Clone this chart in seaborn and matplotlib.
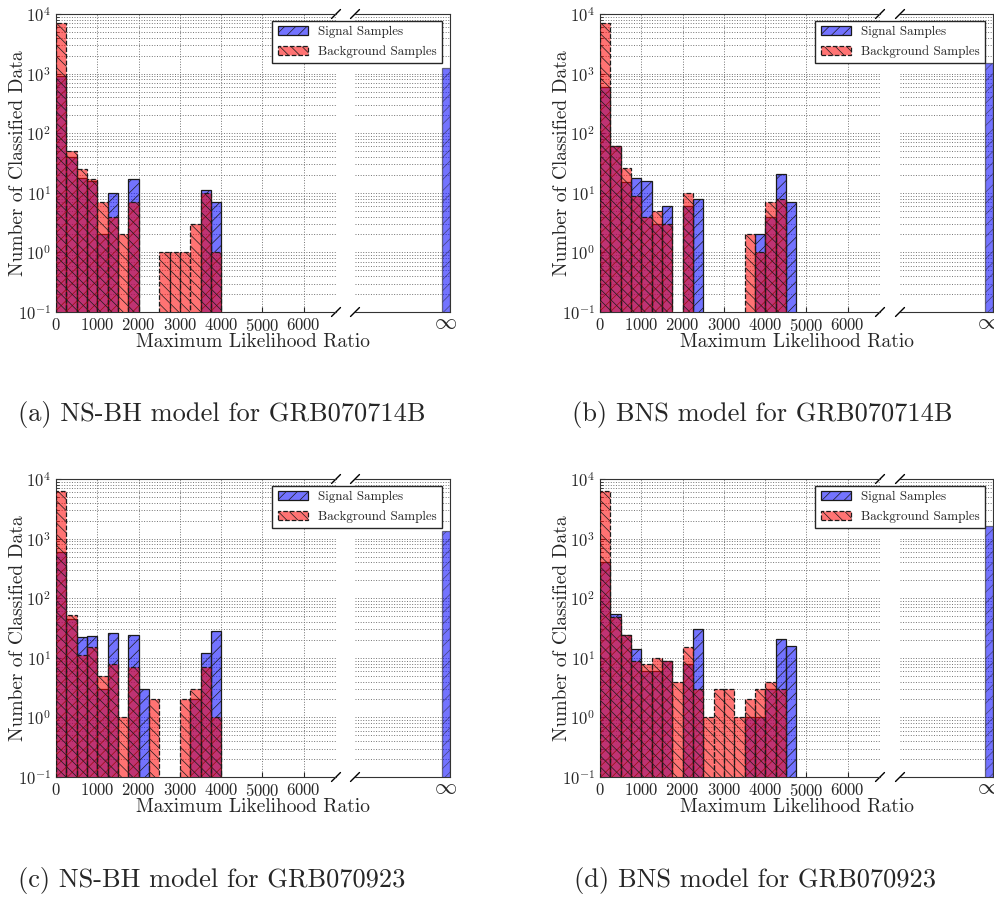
import numpy as np
import seaborn as sns
import matplotlib.pyplot as plt

# histogram bins of the maximum likelihood ratio
bin_edges = [0, 250, 500, 750, 1000, 1250, 1500, 1750, 2000, 2250, 2500,
             2750, 3000, 3250, 3500, 3750, 4000, 4250, 4500, 4750]

# (a) NS-BH model for GRB070714B
signal_a = [900, 40, 18, 16, 2, 10, 0, 17, 0, 0, 0, 0, 0, 0, 11, 7, 0, 0, 0]
background_a = [7000, 50, 25, 17, 7, 4, 2, 7, 0, 0, 1, 1, 1, 3, 10, 1, 0, 0, 0]
inf_a = 1230

# (b) BNS model for GRB070714B
signal_b = [600, 60, 15, 18, 16, 3, 6, 0, 6, 8, 0, 0, 0, 0, 0, 2, 4, 21, 7]
background_b = [7000, 60, 26, 9, 4, 5, 3, 0, 10, 0, 0, 0, 0, 0, 2, 1, 7, 8, 0]
inf_b = 1500

# (c) NS-BH model for GRB070923
signal_c = [600, 44, 22, 23, 3, 26, 0, 24, 3, 0, 0, 0, 0, 2, 12, 28, 0, 0, 0]
background_c = [6200, 52, 11, 15, 5, 8, 1, 7, 0, 2, 0, 0, 2, 3, 7, 1, 0, 0, 0]
inf_c = 1350

# (d) BNS model for GRB070923
signal_d = [400, 55, 24, 14, 6, 6, 9, 0, 8, 31, 0, 0, 0, 0, 1, 1, 3, 21, 16]
background_d = [6300, 48, 24, 9, 8, 10, 9, 4, 15, 3, 1, 3, 3, 1, 2, 3, 4, 3, 0]
inf_d = 1650

captions = ["(a) NS-BH model for GRB070714B", "(b) BNS model for GRB070714B",
            "(c) NS-BH model for GRB070923", "(d) BNS model for GRB070923"]

sns.set_style("white")
plt.rcParams['font.family'] = ['cmr10']
plt.rcParams['mathtext.fontset'] = 'cm'
plt.rcParams['axes.formatter.use_mathtext'] = True
plt.rcParams['axes.unicode_minus'] = False
plt.rcParams['hatch.linewidth'] = 0.5

W, H = 995, 900
fig = plt.figure(figsize=(W / 100, H / 100), dpi=100)

centers = [(bin_edges[i] + bin_edges[i + 1]) / 2 for i in range(len(bin_edges) - 1)]

panels = [
    (signal_a, background_a, inf_a, 56, 14, 355, 95),
    (signal_b, background_b, inf_b, 600, 14, 900, 93),
    (signal_c, background_c, inf_c, 56, 479, 355, 95),
    (signal_d, background_d, inf_d, 600, 479, 900, 93),
]
caption_pos = [(18, 415), (572, 415), (18, 880), (574, 880)]

grid_kw = dict(color='0.45', linestyle=':', linewidth=0.7)

for k, (sig, bg, inf_count, x0, y0, xr, wr) in enumerate(panels):
    h = 298
    ax = fig.add_axes([x0 / W, 1 - (y0 + h) / H, 280 / W, h / H])
    axr = fig.add_axes([xr / W, 1 - (y0 + h) / H, wr / W, h / H])

    sns.histplot(x=centers, weights=sig, bins=bin_edges, ax=ax, color='blue',
                 alpha=0.55, edgecolor='0.1', linewidth=0.9, hatch='///',
                 label='Signal Samples', zorder=2)
    sns.histplot(x=centers, weights=bg, bins=bin_edges, ax=ax, color='red',
                 alpha=0.55, edgecolor='0.1', linewidth=0.9, linestyle='--',
                 hatch='\\\\\\', label='Background Samples', zorder=3)
    ax.set_yscale('log')
    ax.set_ylim(0.1, 1e4)
    ax.set_xlim(0, 6780)
    ax.set_xticks([0, 1000, 2000, 3000, 4000, 5000, 6000])
    ax.set_yticks([1e-1, 1e0, 1e1, 1e2, 1e3, 1e4])
    ax.grid(True, which='major', axis='both', **grid_kw)
    ax.grid(True, which='minor', axis='y', **grid_kw)
    ax.set_axisbelow(True)
    ax.spines['right'].set_visible(False)
    for s in ['left', 'top', 'bottom']:
        ax.spines[s].set_color('0.2')
    ax.tick_params(axis='both', which='both', direction='in', labelsize=12,
                   left=True, bottom=True, top=False, right=False)
    ax.set_ylabel('Number of Classified Data', fontsize=14)
    ax.yaxis.set_label_coords(-0.105, 0.5)
    ax.set_xlabel('Maximum Likelihood Ratio', fontsize=14)
    ax.xaxis.set_label_coords(0.705, -0.07)

    sns.barplot(x=[r'$\infty$'], y=[inf_count], ax=axr, color='blue',
                alpha=0.55, edgecolor='0.1', linewidth=0.9, hatch='///',
                saturation=1, zorder=2)
    axr.set_yscale('log')
    axr.set_ylim(0.1, 1e4)
    axr.set_xlim(-8.6, 0.4)
    axr.set_yticks([1e-1, 1e0, 1e1, 1e2, 1e3, 1e4])
    axr.grid(True, which='both', axis='y', **grid_kw)
    axr.set_axisbelow(True)
    axr.spines['left'].set_visible(False)
    for s in ['right', 'top', 'bottom']:
        axr.spines[s].set_color('0.2')
    axr.tick_params(axis='y', which='both', left=False, right=False, labelleft=False)
    axr.tick_params(axis='x', labelsize=16, length=0, pad=1)
    axr.set_xlabel('')
    axr.set_ylabel('')

    # break markers
    d = 0.015
    kw = dict(color='k', clip_on=False, linewidth=1)
    dl = d * h / 280
    ax.plot((1 - dl, 1 + dl), (-d, d), transform=ax.transAxes, **kw)
    ax.plot((1 - dl, 1 + dl), (1 - d, 1 + d), transform=ax.transAxes, **kw)
    dr = d * h / wr
    axr.plot((-dr, dr), (-d, d), transform=axr.transAxes, **kw)
    axr.plot((-dr, dr), (1 - d, 1 + d), transform=axr.transAxes, **kw)

    handles, labels = ax.get_legend_handles_labels()
    leg = axr.legend(handles, labels, loc='upper right',
                     bbox_to_anchor=(1 - 8 / wr, 1 - 7 / h), borderaxespad=0,
                     fontsize=9.4, frameon=True, fancybox=False, framealpha=1,
                     edgecolor='0.15', handlelength=2.3, labelspacing=0.55,
                     handletextpad=0.8)
    leg.get_frame().set_linewidth(1.0)
    leg.set_zorder(10)

    cx, cy = caption_pos[k]
    fig.text(cx / W, 1 - cy / H, captions[k], fontsize=19, ha='left', va='center')

fig.savefig('out.png', dpi=100)
